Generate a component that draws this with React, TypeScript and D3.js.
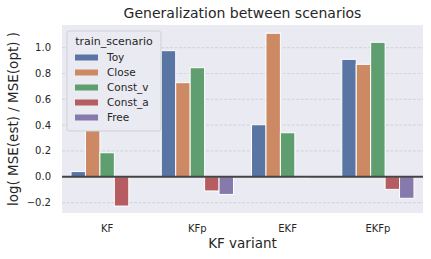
import React from 'react';
import * as d3 from 'd3';

const categories = ['KF', 'KFp', 'EKF', 'EKFp'];
const scenarios = ['Toy', 'Close', 'Const_v', 'Const_a', 'Free'];

// one array per train_scenario, ordered like categories (NaN = no bar)
const toyValues = [0.04, 0.977, 0.403, 0.91];
const closeValues = [0.62, 0.729, 1.112, 0.871];
const constVValues = [0.186, 0.845, 0.341, 1.042];
const constAValues = [-0.227, -0.11, -0.008, -0.098];
const freeValues = [NaN, -0.137, NaN, -0.167];

const yTicks = [-0.2, 0.0, 0.2, 0.4, 0.6, 0.8, 1.0];

const seriesValues = [toyValues, closeValues, constVValues, constAValues, freeValues];
const colors = ['#5875a4', '#cc8963', '#5f9e6e', '#b55d60', '#857aab'];

const W = 431;
const H = 259;
const margin = { top: 25, right: 8, bottom: 46, left: 62 };
const font = "'DejaVu Sans', sans-serif";
const textColor = '#262626';

export default function App() {
  const x0 = d3.scaleBand<string>()
    .domain(categories)
    .range([margin.left, W - margin.right])
    .paddingInner(0.2)
    .paddingOuter(0.1);

  const x1 = d3.scaleBand<string>()
    .domain(scenarios)
    .range([0, x0.bandwidth()]);

  const y = d3.scaleLinear()
    .domain([-0.281, 1.176])
    .range([H - margin.bottom, margin.top]);

  const fmt = (v: number) => d3.format('.1f')(v).replace('-', '\u2212');

  return (
    <svg width={W} height={H} style={{ position: 'absolute', left: 0, top: 0 }} fontFamily={font}>
      <rect x={0} y={0} width={W} height={H} fill="#ffffff" />
      <rect
        x={margin.left}
        y={margin.top}
        width={W - margin.left - margin.right}
        height={H - margin.top - margin.bottom}
        fill="#eaeaf2"
      />

      {/* grid */}
      {yTicks.map(t => (
        <line
          key={'g' + t}
          x1={margin.left}
          x2={W - margin.right}
          y1={y(t)}
          y2={y(t)}
          stroke="#d6d6de"
          strokeWidth={1.2}
          strokeDasharray="3,1.5"
        />
      ))}

      {/* bars */}
      {seriesValues.map((vals, si) =>
        vals.map((v, ci) => {
          if (isNaN(v)) return null;
          const bx = (x0(categories[ci]) || 0) + (x1(scenarios[si]) || 0);
          return (
            <rect
              key={si + '-' + ci}
              x={bx}
              y={Math.min(y(v), y(0))}
              width={x1.bandwidth()}
              height={Math.abs(y(v) - y(0))}
              fill={colors[si]}
              stroke="#ffffff"
              strokeWidth={1}
            />
          );
        })
      )}

      {/* zero line */}
      <line
        x1={margin.left}
        x2={W - margin.right}
        y1={y(0)}
        y2={y(0)}
        stroke="#444444"
        strokeWidth={1.8}
      />

      {/* y ticks */}
      {yTicks.map(t => (
        <text
          key={'t' + t}
          x={margin.left - 11}
          y={y(t)}
          dy="0.35em"
          textAnchor="end"
          fontSize={10}
          fill={textColor}
        >
          {fmt(t)}
        </text>
      ))}

      {/* x ticks */}
      {categories.map(c => (
        <text
          key={'x' + c}
          x={(x0(c) || 0) + x0.bandwidth() / 2}
          y={H - margin.bottom + 19}
          textAnchor="middle"
          fontSize={10}
          fill={textColor}
        >
          {c}
        </text>
      ))}

      {/* labels */}
      <text
        x={(margin.left + W - margin.right) / 2}
        y={18}
        textAnchor="middle"
        fontSize={14}
        fill={textColor}
      >
        Generalization between scenarios
      </text>
      <text
        x={(margin.left + W - margin.right) / 2}
        y={248}
        textAnchor="middle"
        fontSize={13.5}
        fill={textColor}
      >
        KF variant
      </text>
      <text
        transform={`translate(18,${(margin.top + H - margin.bottom) / 2}) rotate(-90)`}
        textAnchor="middle"
        fontSize={13.5}
        fill={textColor}
      >
        log( MSE(est) / MSE(opt) )
      </text>

      {/* legend */}
      <g transform="translate(67,31)">
        <rect x={0} y={0} width={94} height={100} rx={2.5} fill="#eaeaf2" stroke="#cfcfd6" strokeWidth={1} />
        <text x={47} y={14} textAnchor="middle" fontSize={11} fill={textColor}>
          train_scenario
        </text>
        {scenarios.map((s, i) => (
          <g key={s} transform={`translate(8,${26.5 + i * 15})`}>
            <rect x={0} y={-3} width={23} height={6} fill={colors[i]} />
            <text x={32} y={0} dy="0.35em" fontSize={10.5} fill={textColor}>
              {s}
            </text>
          </g>
        ))}
      </g>
    </svg>
  );
}
